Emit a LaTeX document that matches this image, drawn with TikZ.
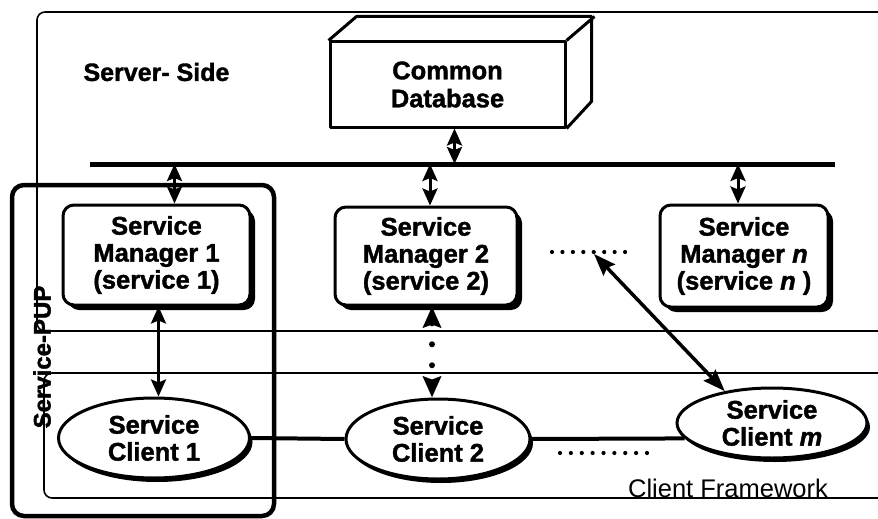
\documentclass[tikz,border=0pt]{standalone}
\usepackage{fontspec}
\setmainfont{Liberation Sans}
\newfontfamily\heavyfont[FakeBold=1.5]{Liberation Sans Bold}
\usetikzlibrary{arrows.meta,shapes.geometric,calc}

\begin{document}
\begin{tikzpicture}[x=1pt,y=-1pt,
  mainfont/.style={font=\heavyfont\fontsize{25.5}{27}\selectfont},
  mgr/.style={draw, line width=3pt, rounded corners=11pt, fill=white,
    align=center, mainfont, inner sep=0pt},
  mgrshadow/.style={fill=black, rounded corners=11pt, inner sep=0pt},
  client/.style={ellipse, draw, line width=3pt, fill=white, align=center,
    mainfont, inner sep=0pt},
  clientshadow/.style={ellipse, fill=black, inner sep=0pt},
  dbline/.style={line width=3pt, line join=round},
  frame/.style={draw, line width=1.6pt, rounded corners=8pt},
  pupbox/.style={draw, line width=4.5pt, rounded corners=12pt},
  dbl/.style={line width=3pt, {Stealth[length=17pt, width=15pt, inset=3pt]}-{Stealth[length=17pt, width=15pt, inset=3pt]}},
  dotrow/.style={line width=4.2pt, line cap=round},
  dotlink/.style={line width=6pt, line cap=round, dash pattern=on 0pt off 21pt,
    {Stealth[length=21pt, width=18pt, inset=3pt]}-{Stealth[length=21pt, width=18pt, inset=3pt]}}
]
\useasboundingbox (0,0) rectangle (878,519);
\clip (0,0) rectangle (878,519);

% server side and client framework regions
\draw[frame] (37,12) rectangle (920,331);
\draw[frame] (44,373) rectangle (920,498);
\node[font=\heavyfont\fontsize{25}{28}\selectfont, anchor=west] (srv) at (80,72) {Server- Side};
\node[font=\fontsize{25.5}{28}\selectfont] (cfw) at (728,488) {Client Framework};

% common database, drawn as a box in perspective
\node[draw, dbline, fill=white, minimum width=235pt, minimum height=85pt,
  align=center, inner sep=0pt, font=\heavyfont\fontsize{25.5}{28}\selectfont]
  (db) at (447.5,84.5) {Common\\Database};
\draw[dbline] (db.north west) -- ++(28,-24) -- ++(235,0) -- ++(0,85) -- (db.south east);
\draw[dbline] (db.north east) -- ++(28,-24);

% shared bus
\coordinate (busL) at (90,164);
\coordinate (busR) at (835,164);
\draw[line width=5pt] (busL) -- (busR);

% positions of managers and clients
\coordinate (p1) at (156.5,255);
\coordinate (p2) at (426,256);
\coordinate (pn) at (744,256);
\coordinate (q1) at (154,438);
\coordinate (q2) at (438,439);
\coordinate (qm) at (772,423);

% hard shadows, offset to the lower right
\node[mgrshadow, minimum width=187pt, minimum height=100pt] (sm1s) at ([shift={(5,5)}]p1) {};
\node[mgrshadow, minimum width=182pt, minimum height=98pt] (sm2s) at ([shift={(5,5)}]p2) {};
\node[mgrshadow, minimum width=168pt, minimum height=102pt] (smns) at ([shift={(5,5)}]pn) {};
\node[clientshadow, minimum width=191pt, minimum height=80pt] (c1s) at ([shift={(3,4)}]q1) {};
\node[clientshadow, minimum width=184pt, minimum height=80pt] (c2s) at ([shift={(3,4)}]q2) {};
\node[clientshadow, minimum width=190pt, minimum height=70pt] (cms) at ([shift={(3,4)}]qm) {};

% service managers
\node[mgr, minimum width=187pt, minimum height=100pt] (sm1) at (p1)
  {Service\\Manager 1\\(service 1)};
\node[mgr, minimum width=182pt, minimum height=98pt] (sm2) at (p2)
  {Service\\Manager 2\\(service 2)};
\node[mgr, minimum width=168pt, minimum height=102pt] (smn) at (pn)
  {Service\\Manager \textit{n}\\(service \textit{n} )};

% service clients
\node[client, minimum width=191pt, minimum height=80pt] (c1) at (q1)
  {Service\\Client 1};
\node[client, minimum width=184pt, minimum height=80pt] (c2) at (q2)
  {Service\\Client 2};
\node[client, minimum width=190pt, minimum height=70pt] (cm) at (qm)
  {Service\\Client \textit{m}};

% links to the bus
\draw[dbl] ([xshift=7pt]db.south) -- ([xshift=7pt]db.south |- busL);
\draw[dbl] ([xshift=18pt]sm1.north |- busL) -- ([xshift=18pt]sm1.north);
\draw[dbl] ([xshift=4pt]sm2.north |- busL) -- ([xshift=4pt]sm2.north);
\draw[dbl] ([xshift=-6pt]smn.north |- busL) -- ([xshift=-6pt]smn.north);

% manager to client links
\draw[dbl] ([xshift=2pt]sm1.south) -- ([xshift=2pt]sm1.south |- c1.north);
\draw[dotlink] ([xshift=6pt]sm2.south) -- ([xshift=6pt]sm2.south |- c2.north);
\coordinate (dA) at (552,252);
\coordinate (dB) at (635.5,252);
\coordinate (dmid) at (594,254);
\draw[dotrow, dash pattern=on 0pt off 10.44pt] (dA) -- (dB);
\draw[line width=3.5pt, {Stealth[length=22pt, width=16pt, inset=3pt]}-{Stealth[length=22pt, width=16pt, inset=3pt]}]
  (dmid) -- (cm.146);

% client chain
\draw[line width=4pt] (c1.east) -- (c2.west);
\draw[line width=4pt] (c2.east) -- (cm.190);
\coordinate (eA) at (560,453);
\coordinate (eB) at (647,453);
\draw[dotrow, dash pattern=on 0pt off 10.875pt] (eA) -- (eB);

% service-PUP grouping
\draw[pupbox] (12,185) rectangle (274,516);
\node[rotate=90, font=\heavyfont\fontsize{24}{26}\selectfont] (pup) at (42,357) {Service-PUP};
\end{tikzpicture}
\end{document}
